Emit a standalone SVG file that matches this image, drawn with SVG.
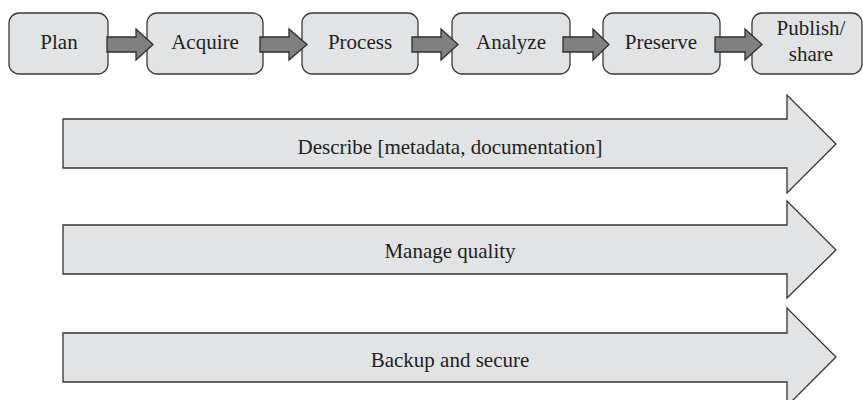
<svg xmlns="http://www.w3.org/2000/svg" width="863" height="400" viewBox="0 0 863 400">
  <style>
    .box { fill: #e2e3e5; stroke: #3a3a3a; stroke-width: 1.3; }
    .step { fill: #7f8082; stroke: #2e2e2e; stroke-width: 1.3; stroke-linejoin: miter; }
    .band { fill: #e2e3e5; stroke: #333333; stroke-width: 1.3; stroke-linejoin: miter; }
    text { font-family: "Liberation Serif", "Times New Roman", serif; font-size: 21px; fill: #231f20; text-anchor: middle; }
  </style>
  <rect width="863" height="400" fill="#ffffff"/>

  <!-- Workflow stages -->
  <g id="plan">
    <rect class="box" x="9" y="13" width="99" height="61" rx="10"/>
    <text x="59" y="48.5">Plan</text>
  </g>
  <g id="acquire">
    <rect class="box" x="147" y="13" width="116" height="61" rx="10"/>
    <text x="205" y="48.5">Acquire</text>
  </g>
  <g id="process">
    <rect class="box" x="302" y="13" width="116" height="61" rx="10"/>
    <text x="360" y="48.5">Process</text>
  </g>
  <g id="analyze">
    <rect class="box" x="452" y="13" width="118" height="61" rx="10"/>
    <text x="511" y="48.5">Analyze</text>
  </g>
  <g id="preserve">
    <rect class="box" x="603" y="13" width="117" height="61" rx="10"/>
    <text x="661" y="48.5">Preserve</text>
  </g>
  <g id="publish">
    <rect class="box" x="752" y="13" width="110" height="61" rx="10"/>
    <text x="811" y="35">Publish/</text>
    <text x="811" y="61">share</text>
  </g>

  <!-- Block arrows between stages -->
  <g id="connectors">
    <polygon class="step" points="107,37 136,37 136,29 153,44.5 136,60 136,52 107,52"/>
    <polygon class="step" points="260,37 289,37 289,29 307,44.5 289,60 289,52 260,52"/>
    <polygon class="step" points="412,37 441,37 441,29 458,44.5 441,60 441,52 412,52"/>
    <polygon class="step" points="563,37 593,37 593,29 609,44.5 593,60 593,52 563,52"/>
    <polygon class="step" points="715,37 745,37 745,29 762,44.5 745,60 745,52 715,52"/>
  </g>

  <!-- Cross-cutting activities -->
  <g id="describe">
    <polygon class="band" points="63,119 787,119 787,95 836,144 787,193 787,168 63,168"/>
    <text x="450" y="154">Describe [metadata, documentation]</text>
  </g>
  <g id="quality">
    <polygon class="band" points="63,225 787,225 787,201 836,250 787,298 787,274 63,274"/>
    <text x="450" y="258">Manage quality</text>
  </g>
  <g id="backup">
    <polygon class="band" points="63,333 787,333 787,308 836,357 787,406 787,382 63,382"/>
    <text x="450" y="366.5">Backup and secure</text>
  </g>
</svg>
